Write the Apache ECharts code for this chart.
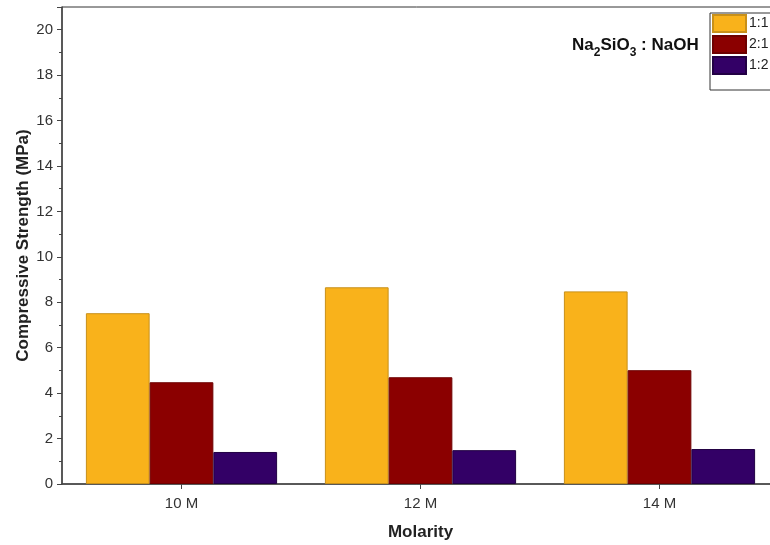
<!DOCTYPE html>
<html><head><meta charset="utf-8">
<script src="https://cdn.jsdelivr.net/npm/echarts@6/dist/echarts.min.js"></script>
<style>html,body{margin:0;padding:0;background:#fff}#c{width:770px;height:545px}</style>
</head><body><div id="c"></div>
<script>
const categories = ['10 M', '12 M', '14 M'];
const seriesNames = ['1:1', '2:1', '1:2'];
const ratio11 = [7.52, 8.66, 8.48];
const ratio21 = [4.48, 4.70, 5.01];
const ratio12 = [1.41, 1.49, 1.54];
const colors = ['#F9B21B', '#8B0000', '#330066'];
const borders = ['#C8901A', '#6E0000', '#220044'];
const dataSets = [ratio11, ratio21, ratio12];

const chart = echarts.init(document.getElementById('c'));
const font = 'Liberation Sans, Arial, sans-serif';
chart.setOption({
  animation: false,
  textStyle: { fontFamily: font },
  grid: { left: 62, top: 7, width: 717, bottom: 61, outerBoundsMode: 'none', containLabel: false,
    show: true, borderColor: '#333', borderWidth: 1, backgroundColor: 'transparent' },
  legend: {
    orient: 'vertical', left: 710, top: 13,
    itemWidth: 33, itemHeight: 17, itemGap: 2,
    padding: [1, 60, 15, 2],
    icon: 'rect',
    borderColor: '#333', borderWidth: 1,
    textStyle: { fontSize: 14, color: '#222', fontFamily: font, padding: [0, 0, 0, -2] },
    data: seriesNames
  },
  xAxis: {
    type: 'category', data: categories,
    name: 'Molarity', nameLocation: 'middle', nameGap: 40, nameMoveOverlap: false,
    nameTextStyle: { fontSize: 17, fontWeight: 'bold', color: '#222', fontFamily: font },
    axisLine: { lineStyle: { color: '#444', width: 1.5 } },
    axisTick: { show: true, alignWithLabel: true, length: 5, lineStyle: { color: '#444' } },
    axisLabel: { fontSize: 15, color: '#333', margin: 12, fontFamily: font }
  },
  yAxis: {
    type: 'value', min: 0, max: 21, interval: 2,
    name: 'Compressive Strength (MPa)', nameLocation: 'middle', nameGap: 30, nameMoveOverlap: false,
    nameTextStyle: { fontSize: 17, fontWeight: 'bold', color: '#222', fontFamily: font },
    axisLine: { show: true, lineStyle: { color: '#444', width: 1.5 } },
    axisTick: { show: true, length: 5, lineStyle: { color: '#444' } },
    minorTick: { show: true, splitNumber: 2, length: 3, lineStyle: { color: '#444' } },
    splitLine: { show: false },
    axisLabel: { fontSize: 15, color: '#333', margin: 9, fontFamily: font,
      formatter: v => (v % 2 === 0 && v <= 20) ? String(v) : '' }
  },
  graphic: [{
    type: 'text', left: 572, top: 37,
    style: {
      text: '{b|Na}{s|2}{b|SiO}{s|3}{b| : NaOH}',
      rich: {
        b: { fontSize: 17, fontWeight: 'bold', fill: '#111', fontFamily: font, verticalAlign: 'bottom' },
        s: { fontSize: 12, fontWeight: 'bold', fill: '#111', fontFamily: font, verticalAlign: 'bottom', padding: [0, 0, -5, 0] }
      }
    }
  }],
  series: seriesNames.map((n, i) => ({
    name: n, type: 'bar', data: dataSets[i],
    barGap: '0%', barCategoryGap: '20%',
    itemStyle: { color: colors[i], borderColor: borders[i], borderWidth: 1 }
  }))
});
</script></body></html>
